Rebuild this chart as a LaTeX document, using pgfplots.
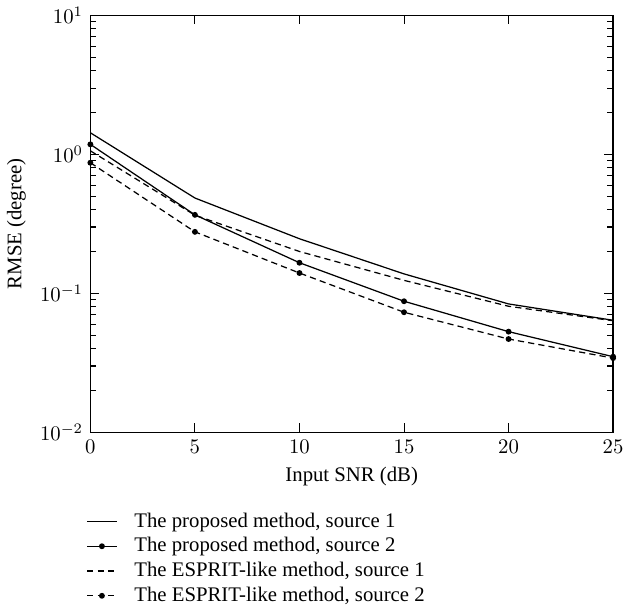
\documentclass[border=0pt]{standalone}
\usepackage{fontspec}
\setmainfont{Liberation Serif}
\usepackage{pgfplots}
\pgfplotsset{compat=1.18}
\begin{document}
\begin{tikzpicture}
\begin{semilogyaxis}[
    width=252pt, height=201pt,
    scale only axis,
    xmin=0, xmax=25,
    ymin=1e-2, ymax=1e1,
    xtick={0,5,10,15,20,25},
    ytick={1e-2,1e-1,1e0,1e1},
    tick align=inside,
    xlabel={Input SNR (dB)},
    ylabel={RMSE (degree)},
    axis line style={line width=0.6pt},
    every tick/.style={black, line width=0.5pt},
    legend style={at={(-0.02,-0.172)}, anchor=north west, draw=none, fill=none,
        cells={anchor=west}, row sep=-0.5pt, font=\normalsize},
    legend image code/.code={
        \draw[mark repeat=2,mark phase=2] plot coordinates {(0cm,0cm) (0.25cm,0cm) (0.5cm,0cm)};
        \path (0.72cm,0cm);},
]
\addplot[black, line width=0.6pt] coordinates {
    (0,1.43) (5,0.485) (10,0.247) (15,0.138) (20,0.0839) (25,0.064)};
\addplot[black, line width=0.6pt, mark=*, mark size=1.1pt] coordinates {
    (0,1.18) (5,0.367) (10,0.166) (15,0.0877) (20,0.053) (25,0.035)};
\addplot[black, line width=0.6pt, dash pattern=on 3pt off 2pt] coordinates {
    (0,1.06) (5,0.365) (10,0.20) (15,0.124) (20,0.0807) (25,0.0635)};
\addplot[black, line width=0.6pt, dash pattern=on 3pt off 2pt, mark=*, mark size=1.1pt, mark options={solid}] coordinates {
    (0,0.87) (5,0.277) (10,0.140) (15,0.0731) (20,0.0469) (25,0.0342)};
\legend{{The proposed method, source 1},
        {The proposed method, source 2},
        {The ESPRIT-like method, source 1},
        {The ESPRIT-like method, source 2}}
\end{semilogyaxis}
\path ([xshift=12pt]current axis.south east);
\end{tikzpicture}
\end{document}
